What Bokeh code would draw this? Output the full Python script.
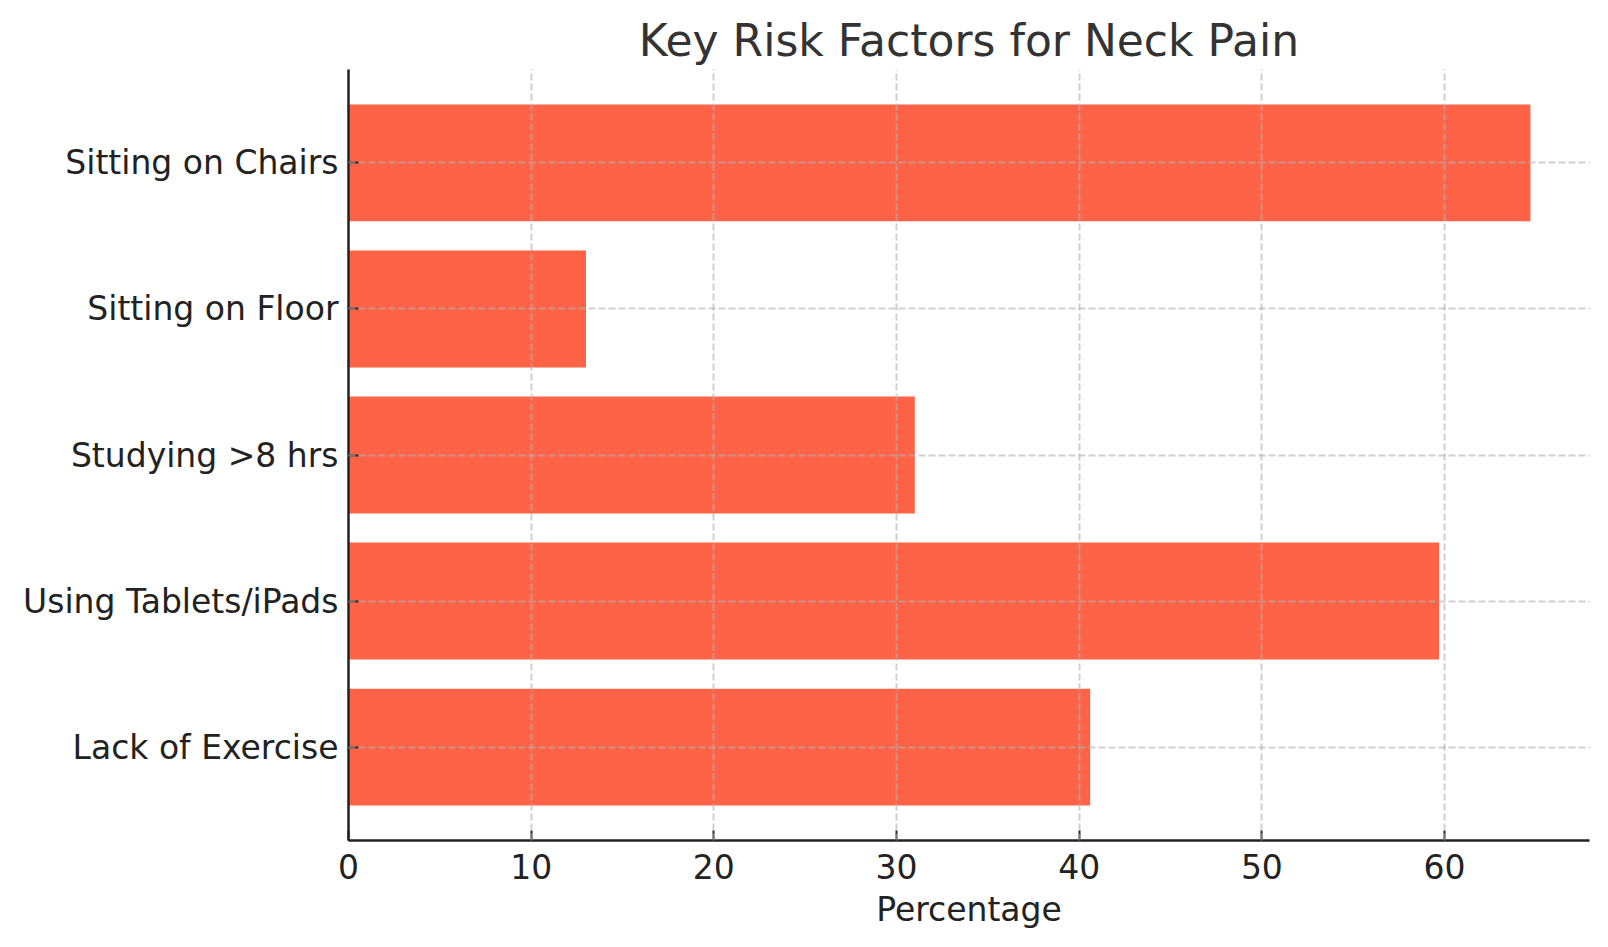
from bokeh.plotting import figure
from bokeh.models import Range1d, FixedTicker, ColumnDataSource, Title
from bokeh.embed import file_html
from bokeh.resources import INLINE

categories = ["Lack of Exercise", "Using Tablets/iPads", "Studying >8 hrs", "Sitting on Floor", "Sitting on Chairs"]
values = [40.6, 59.7, 31.0, 13.0, 64.7]
x_ticks = [0, 10, 20, 30, 40, 50, 60]

positions = list(range(len(categories)))
source = ColumnDataSource(dict(y=positions, value=values, cat=categories))

FONT = "DejaVu Sans"

p = figure(width=1600, height=939, output_backend="svg", toolbar_location=None,
           x_range=Range1d(0, max(values) * 1.05),
           y_range=Range1d(-0.64, len(categories) - 1 + 0.64),
           min_border_left=348, min_border_right=11, min_border_top=69, min_border_bottom=99)

p.title = Title(text="Key Risk Factors for Neck Pain", align="center", text_font=FONT,
                text_font_size="44px", text_font_style="normal", text_color="#333333", standoff=8)

p.hbar(y="y", right="value", left=0, height=0.8, source=source, fill_color="#FF6347", line_color=None)

p.outline_line_color = None
p.background_fill_color = "white"
p.border_fill_color = "white"

for ax in (p.xaxis[0], p.yaxis[0]):
    ax.axis_line_color = "#222222"
    ax.axis_line_width = 2.5
    ax.major_tick_line_color = "#222222"
    ax.major_tick_line_width = 2
    ax.major_tick_in = 10
    ax.major_tick_out = 0
    ax.minor_tick_line_color = None
    ax.major_label_text_font = FONT
    ax.major_label_text_font_size = "33px"
    ax.major_label_text_color = "#222222"

p.xaxis.ticker = FixedTicker(ticks=x_ticks)
p.xaxis.major_label_standoff = 13
p.xaxis.axis_label = "Percentage"
p.xaxis.axis_label_text_font = FONT
p.xaxis.axis_label_text_font_size = "33px"
p.xaxis.axis_label_text_font_style = "normal"
p.xaxis.axis_label_text_color = "#222222"
p.xaxis.axis_label_standoff = 8

p.yaxis.ticker = FixedTicker(ticks=positions)
p.yaxis.major_label_overrides = {i: c for i, c in zip(positions, categories)}
p.yaxis.major_label_standoff = 10

for g in (p.xgrid[0], p.ygrid[0]):
    g.grid_line_color = "#b0b0b0"
    g.grid_line_alpha = 0.6
    g.grid_line_width = 2
    g.grid_line_dash = "7 3"
    g.level = "annotation"
p.ygrid.ticker = FixedTicker(ticks=positions)
p.xgrid.ticker = FixedTicker(ticks=x_ticks)

open("out.html", "w").write(file_html(p, INLINE))
